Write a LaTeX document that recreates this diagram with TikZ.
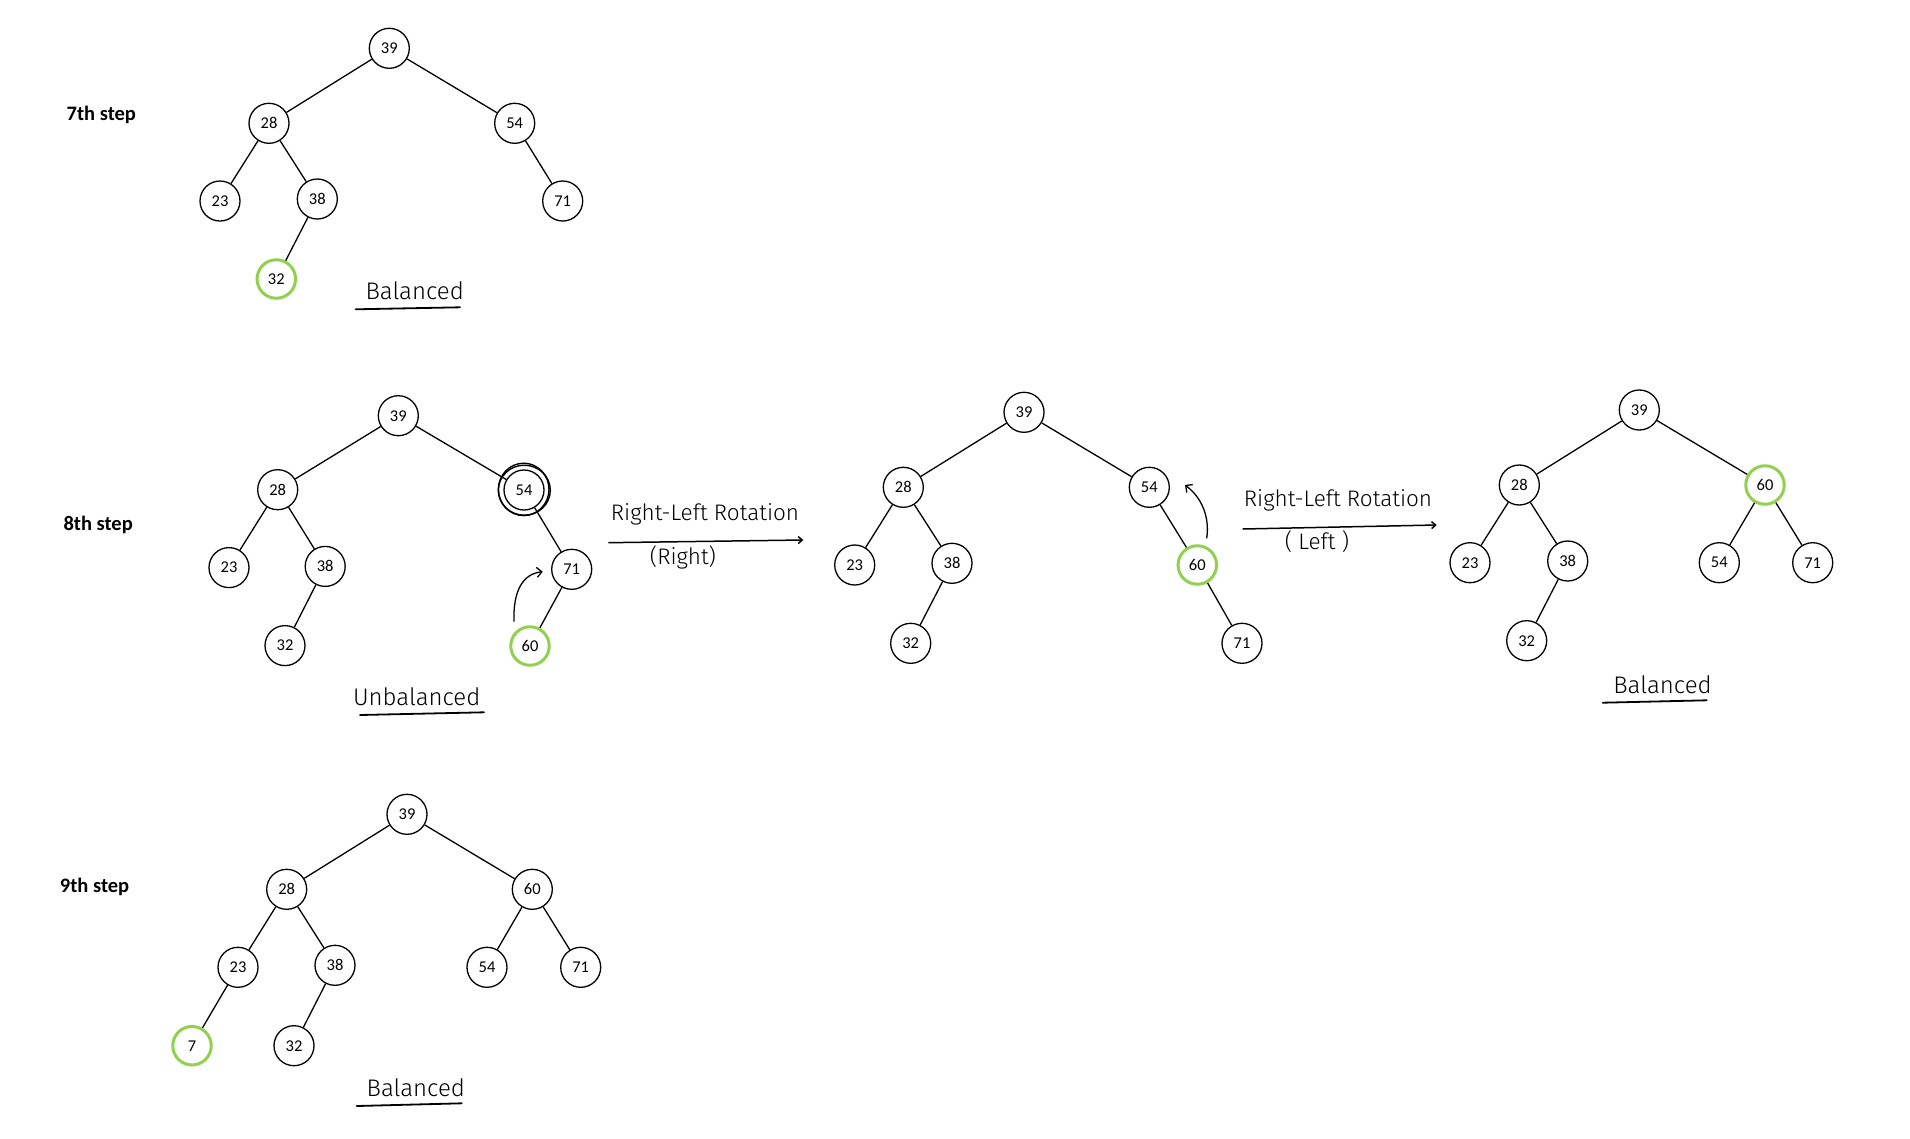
\documentclass[tikz,border=0pt]{standalone}
\usepackage{fontspec}
\setmainfont{Carlito}
\newfontfamily\hand{Fira Sans Light}
\usetikzlibrary{arrows.meta}
\definecolor{leafgreen}{RGB}{146,208,80}

\begin{document}
\begin{tikzpicture}[x=1pt,y=-1pt,
  key/.style={circle,draw,line width=1.3pt,minimum size=40pt,inner sep=0pt,
    font=\fontsize{16.5}{19}\selectfont},
  newkey/.style={key,draw=leafgreen,line width=3pt,minimum size=38.5pt},
  edge/.style={line width=1.3pt},
  steplabel/.style={anchor=base west,inner sep=0pt,font=\bfseries\fontsize{20.5}{24}\selectfont},
  hw/.style={anchor=base,inner sep=0pt,font=\hand\fontsize{24}{28}\selectfont},
  hwsmall/.style={hw,font=\hand\fontsize{22.5}{26}\selectfont},
  underline/.style={line width=1.8pt,line cap=round},
  rotarrow/.style={line width=1.5pt,-{Straight Barb[length=4pt,width=7pt]}},
  bendarrow/.style={line width=1.3pt,-{Straight Barb[length=5pt,width=10pt]}}
]
\useasboundingbox (0,0) rectangle (1910,1138);

% ---------- 7th step ----------
\node[steplabel] (s7) at (66.5,120.5) {7th step};
\node[key] (a39) at (389.3,48.3) {39};
\node[key] (a28) at (269,123.3) {28};
\node[key] (a54) at (514.7,123.3) {54};
\node[key] (a23) at (220,201) {23};
\node[key] (a38) at (317.3,199) {38};
\node[key] (a71) at (562.7,201) {71};
\node[newkey] (a32) at (276.3,279) {32};
\foreach \p/\c in {39/28,39/54,28/23,28/38,38/32,54/71}
  \draw[edge] (a\p) -- (a\c);
\node[hw] (bal1) at (414.7,299) {Balanced};
\coordinate (u1a) at (355.7,309.3);
\coordinate (u1b) at (460,307.3);
\draw[underline] (u1a) -- (u1b);

% ---------- 8th step ----------
\node[steplabel] (s8) at (63.3,530) {8th step};
\node[key] (b39) at (398.3,415.7) {39};
\node[key] (b28) at (277.7,489.7) {28};
\node[key] (b54) at (524,490) {54};
\node[key] (b23) at (229,567.6) {23};
\node[key] (b38) at (325.2,566.4) {38};
\node[key] (b71) at (571.7,569.3) {71};
\node[key] (b32) at (285,645.6) {32};
\node[newkey] (b60) at (530,646) {60};
\foreach \p/\c in {39/28,39/54,28/23,28/38,38/32,54/71,71/60}
  \draw[edge] (b\p) -- (b\c);
% hand-drawn ring marking the unbalanced key
\begin{scope}[shift={(b54.center)},line width=1.4pt]
  \draw (0.3,0.2) ellipse [x radius=26,y radius=25];
  \draw (-0.3,-0.6) ellipse [x radius=25.3,y radius=26.2];
\end{scope}
\coordinate (m1s) at (514,621.7);
\coordinate (m1e) at (542.7,571.7);
\draw[bendarrow] (m1s) .. controls (513,592) and (522,574) .. (m1e);
\node[hw] (unbal) at (416.7,705) {Unbalanced};
\coordinate (u2a) at (360,715);
\coordinate (u2b) at (484,712.3);
\draw[underline] (u2a) -- (u2b);

% first rotation arrow
\coordinate (r1a) at (608.3,542.7);
\coordinate (r1b) at (803.3,540);
\draw[rotarrow] (r1a) -- (r1b);
\node[hwsmall] (rot1) at (705,520) {Right-Left Rotation};
\node[hwsmall] (rot1b) at (683,564) {(Right)};

% ---------- intermediate tree ----------
\node[key] (c39) at (1024,412.3) {39};
\node[key] (c28) at (903.3,487.3) {28};
\node[key] (c54) at (1149.3,487.3) {54};
\node[key] (c23) at (854.7,565) {23};
\node[key] (c38) at (952,563.3) {38};
\node[newkey] (c60) at (1197.3,565) {60};
\node[key] (c32) at (910.7,643.3) {32};
\node[key] (c71) at (1242,643.3) {71};
\foreach \p/\c in {39/28,39/54,28/23,28/38,38/32,54/60,60/71}
  \draw[edge] (c\p) -- (c\c);
\coordinate (m2s) at (1206.7,538.3);
\coordinate (m2e) at (1185,485);
\draw[bendarrow] (m2s) .. controls (1210,516) and (1201,497) .. (m2e);

% second rotation arrow
\coordinate (r2a) at (1242.7,529);
\coordinate (r2b) at (1436.7,525);
\draw[rotarrow] (r2a) -- (r2b);
\node[hwsmall] (rot2) at (1338,506.7) {Right-Left Rotation};
\node[hwsmall] (rot2b) at (1317,549.3) {( Left )};

% ---------- balanced result ----------
\node[key] (d39) at (1639.3,410) {39};
\node[key] (d28) at (1519.3,485) {28};
\node[newkey] (d60) at (1765,485) {60};
\node[key] (d23) at (1470,562.7) {23};
\node[key] (d38) at (1567.7,561) {38};
\node[key] (d54) at (1719.3,562.7) {54};
\node[key] (d71) at (1812.7,562.7) {71};
\node[key] (d32) at (1526.7,640.7) {32};
\foreach \p/\c in {39/28,39/60,28/23,28/38,38/32,60/54,60/71}
  \draw[edge] (d\p) -- (d\c);
\node[hw] (bal3) at (1662.5,693.3) {Balanced};
\coordinate (u3a) at (1602.7,702.7);
\coordinate (u3b) at (1706.7,700.3);
\draw[underline] (u3a) -- (u3b);

% ---------- 9th step ----------
\node[steplabel] (s9) at (59.7,892) {9th step};
\node[key] (e39) at (407,814.3) {39};
\node[key] (e28) at (286.7,889.3) {28};
\node[key] (e60) at (532.3,889.3) {60};
\node[key] (e23) at (238,967.3) {23};
\node[key] (e38) at (335,965.3) {38};
\node[key] (e54) at (487,967.3) {54};
\node[key] (e71) at (580.7,967.3) {71};
\node[newkey] (e7) at (192,1045.7) {7};
\node[key] (e32) at (294,1045.7) {32};
\foreach \p/\c in {39/28,39/60,28/23,28/38,23/7,38/32,60/54,60/71}
  \draw[edge] (e\p) -- (e\c);
\node[hw] (bal4) at (415.8,1096) {Balanced};
\coordinate (u4a) at (356.7,1106);
\coordinate (u4b) at (461.7,1103.3);
\draw[underline] (u4a) -- (u4b);
\end{tikzpicture}
\end{document}
